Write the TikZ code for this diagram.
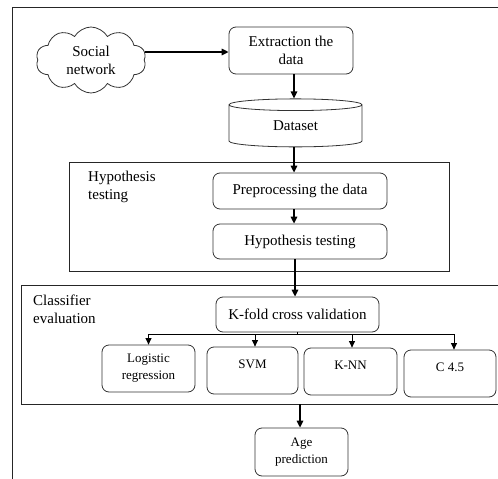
\documentclass[tikz,border=0pt]{standalone}
\usepackage{fontspec}
\setmainfont{Liberation Serif}
\usetikzlibrary{shapes.geometric,shapes.symbols,arrows.meta}
\begin{document}
\begin{tikzpicture}[x=1pt,y=-1pt,
  box/.style={draw=black!80, line width=0.8pt, rounded corners=7pt, align=center, inner sep=1pt},
  bigtxt/.style={font=\fontsize{15}{18}\selectfont},
  smalltxt/.style={font=\fontsize{13}{17}\selectfont},
  arr/.style={line width=1.5pt, -{Triangle[length=7pt,width=6.5pt]}},
  sarr/.style={line width=0.9pt, -{Triangle[length=6.5pt,width=6pt]}},
  thin/.style={line width=0.9pt},
  frame/.style={draw=black!85, line width=0.9pt},
  lbl/.style={align=left, anchor=north west, inner sep=0pt, font=\fontsize{15}{17.5}\selectfont}
]
\useasboundingbox (0,0) rectangle (498,479);
% outer frame (only top and left visible)
\draw[frame] (499,7) -- (12,7) -- (12,480);

% nodes
\node[cloud, cloud puffs=10, cloud puff arc=120, aspect=1.7, draw=black!80, line width=0.8pt,
      minimum width=110pt, minimum height=66pt, inner sep=0pt, align=center, bigtxt]
  (cloud) at (91,60) {Social\\network};
\node[box, bigtxt, minimum width=124pt, minimum height=47pt] (extract) at (291,50.5) {Extraction the\\data};
\node[cylinder, shape border rotate=90, aspect=0.26, draw=black!80, line width=0.8pt,
      minimum width=133pt, minimum height=48pt, inner sep=0pt, bigtxt] (dataset) at (295.5,126) {Dataset};

% hypothesis testing frame
\draw[frame] (69,162) rectangle (449,271);
\node[lbl] (hyplbl) at (88,171) {Hypothesis\\testing};
\node[box, bigtxt, minimum width=174pt, minimum height=36pt] (prep) at (300,191) {Preprocessing the data};
\node[box, bigtxt, minimum width=174pt, minimum height=35pt] (hyp) at (300,241.5) {Hypothesis testing};

% classifier evaluation frame
\draw[frame] (499,285) -- (21,285) -- (21,404) -- (499,404);
\coordinate (clsbot) at (300,404);
\node[lbl] (clslbl) at (33,295) {Classifier\\evaluation};
\node[box, bigtxt, minimum width=163pt, minimum height=35pt] (kfold) at (297.5,314.5) {K-fold cross validation};
\node[box, smalltxt, minimum width=93pt, minimum height=47pt] (logit) at (148.5,368.5) {Logistic\\regression};
\node[box, smalltxt, minimum width=91pt, minimum height=47pt, text depth=12pt] (svm) at (252.5,370.5) {SVM};
\node[box, smalltxt, minimum width=93pt, minimum height=47pt, text depth=12pt] (knn) at (350.5,371.5) {K-NN};
\node[box, smalltxt, minimum width=92pt, minimum height=47pt, text depth=12pt] (c45) at (450,373.5) {C 4.5};
\node[box, smalltxt, minimum width=93pt, minimum height=48pt] (age) at (301.5,452) {Age\\prediction};

% helper coordinates
\coordinate (ay) at (0,52);
\coordinate (ax) at (294,0);
\coordinate (bx) at (295,0);
\coordinate (br) at (297.5,334);
\coordinate (xsvm) at (255,0);
\coordinate (xknn) at (352,0);
\coordinate (xc) at (454,0);

% connectors
\draw[arr] (cloud.east |- ay) -- (extract.west |- ay);
\draw[arr] (extract.south -| ax) -- (dataset.north -| ax);
\draw[arr] (dataset.south -| ax) -- (prep.north -| ax);
\draw[arr] (prep.south -| ax) -- (hyp.north -| ax);
\draw[arr] (hyp.south -| bx) -- (kfold.north -| bx);
\draw[thin] (kfold.south) -- (br);
\draw[thin] (br) -| (xc |- br);
\draw[thin] (br) -| (logit.north |- br);
\draw[sarr] (logit.north |- br) -- (logit.north);
\draw[sarr] (xsvm |- br) -- (svm.north -| xsvm);
\draw[sarr] (xknn |- br) -- (knn.north -| xknn);
\draw[sarr] (xc |- br) -- (c45.north -| xc);
\draw[arr] (clsbot) -- (age.north -| clsbot);
\end{tikzpicture}
\end{document}
